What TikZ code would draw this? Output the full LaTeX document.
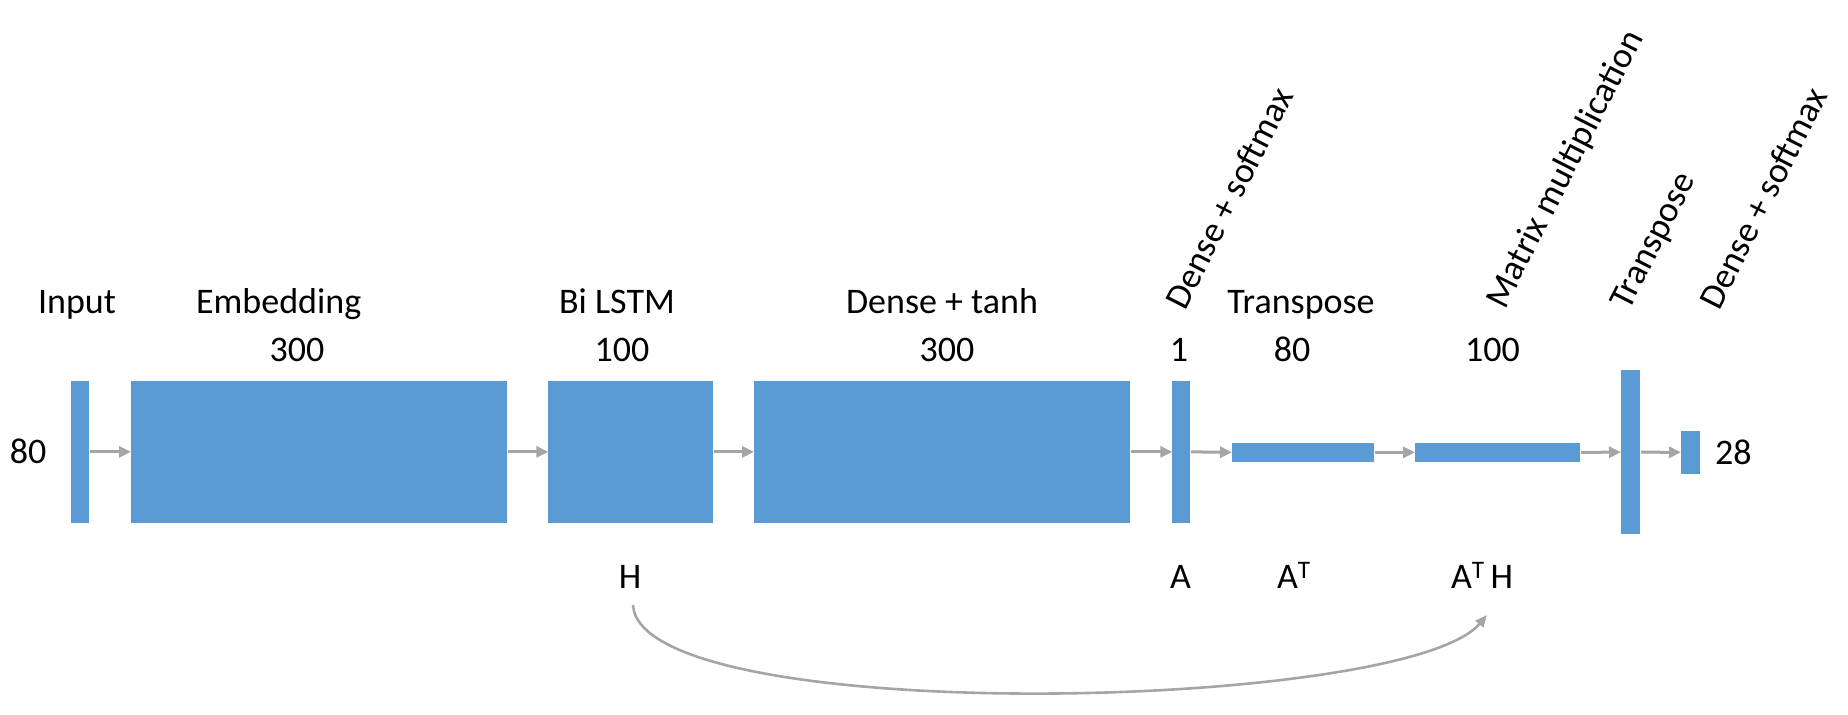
\documentclass[tikz,border=0pt]{standalone}
\usepackage{fontspec}
\setmainfont{Carlito}
\usetikzlibrary{arrows.meta}
\definecolor{boxblue}{HTML}{5B9BD5}
\definecolor{arrgray}{HTML}{A5A5A5}
\tikzset{
  blk/.style={fill=boxblue, draw=none, inner sep=0pt, outer sep=0pt, rectangle},
  lbl/.style={inner sep=0pt, outer sep=0pt, font=\fontsize{36}{42}\selectfont, text=black},
  flow/.style={draw=arrgray, line width=3pt, -{Triangle[length=12pt,width=11pt]}},
  skip/.style={draw=arrgray, line width=2.6pt, -{Triangle[length=12pt,width=10pt]}}
}
\begin{document}
\begin{tikzpicture}[x=1pt,y=-1pt]
\useasboundingbox (0,0) rectangle (1848,715);
% blocks
\node[blk, minimum width=18pt, minimum height=141.7pt] (in) at (80,451.85) {};
\node[blk, minimum width=375.7pt, minimum height=141.7pt] (emb) at (318.85,451.85) {};
\node[blk, minimum width=164.4pt, minimum height=141.7pt] (lstm) at (630.5,451.85) {};
\node[blk, minimum width=376pt, minimum height=141.7pt] (tanh) at (942,451.85) {};
\node[blk, minimum width=17.7pt, minimum height=141.7pt] (att) at (1181.15,451.85) {};
\node[blk, minimum width=142pt, minimum height=18.7pt] (tr) at (1303,452.35) {};
\node[blk, minimum width=165pt, minimum height=18.7pt] (mm) at (1497.5,452.35) {};
\node[blk, minimum width=19pt, minimum height=164.3pt] (tr2) at (1630.5,452.15) {};
\node[blk, minimum width=19pt, minimum height=42.7pt] (out) at (1690.5,452.35) {};
% arrows
\draw[flow] ([xshift=1pt]in.east) -- (emb.west);
\draw[flow] ([xshift=1pt]emb.east) -- (lstm.west);
\draw[flow] ([xshift=1pt]lstm.east) -- (tanh.west);
\draw[flow] ([xshift=1pt]tanh.east) -- (att.west);
\draw[flow] ([xshift=1pt]att.east) -- (tr.west);
\draw[flow] ([xshift=1pt]tr.east) -- (mm.west);
\draw[flow] ([xshift=1pt]mm.east) -- (tr2.west);
\draw[flow] ([xshift=1pt]tr2.east) -- (out.west);
% top labels
\node[lbl, anchor=base] (tIn) at (77,313.3) {Input};
\node[lbl, anchor=base] (tEmb) at (278.7,313.3) {Embedding};
\node[lbl, anchor=base] (tLstm) at (617,313.3) {Bi LSTM};
\node[lbl, anchor=base] (tTanh) at (942,313.3) {Dense + tanh};
\node[lbl, anchor=base] (tTr) at (1301,313.3) {Transpose};
% rotated labels
\node[lbl, anchor=base west, rotate=63] (rDs1) at (1185,311) {Dense + softmax};
\node[lbl, anchor=base west, rotate=63] (rMm) at (1505,310) {Matrix multiplication};
\node[lbl, anchor=base west, rotate=63] (rTr) at (1629,311) {Transpose};
\node[lbl, anchor=base west, rotate=63] (rDs2) at (1719,311) {Dense + softmax};
% sizes
\node[lbl, anchor=base] (nEmb) at (297,361.7) {300};
\node[lbl, anchor=base] (nLstm) at (622,361.7) {100};
\node[lbl, anchor=base] (nTanh) at (947,361.7) {300};
\node[lbl, anchor=base] (nAtt) at (1179,361.7) {1};
\node[lbl, anchor=base] (nTr) at (1292,361.7) {80};
\node[lbl, anchor=base] (nMm) at (1492.5,361.7) {100};
\node[lbl, anchor=base] (nIn) at (28,463) {80};
\node[lbl, anchor=base west] (nOut) at (1715,464) {28};
% bottom labels
\node[lbl, anchor=base] (bH) at (630,588) {H};
\node[lbl, anchor=base] (bA) at (1180.5,588) {A};
\node[lbl, anchor=base west] (bAT) at (1277,588) {A\textsuperscript{T}};
\node[lbl, anchor=base west] (bATH) at (1451,588) {A\textsuperscript{T}\,H};
% skip connection
\coordinate (cs) at ([xshift=3pt,yshift=-17pt]bH.base);
\coordinate (ce) at ([xshift=36pt,yshift=-27pt]bATH.base west);
\draw[skip] (cs) .. controls (640,728) and (1405,712) .. (ce);
\end{tikzpicture}
\end{document}
